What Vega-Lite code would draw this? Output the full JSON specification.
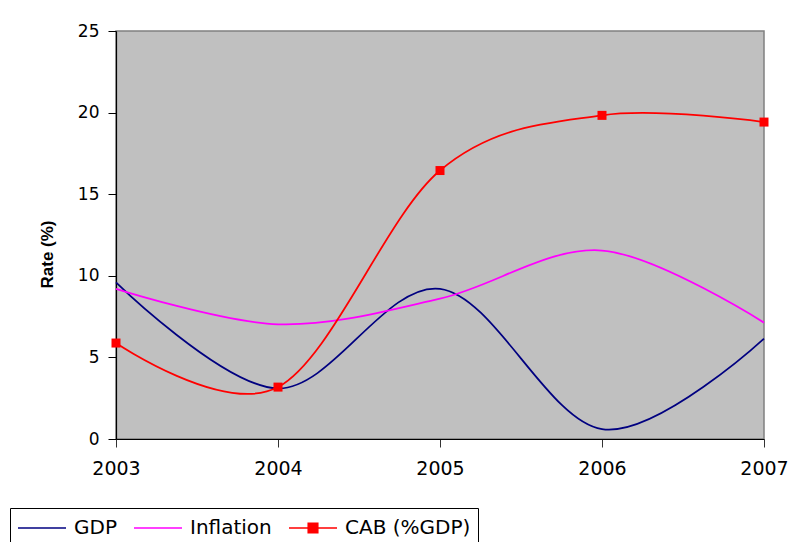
{
  "$schema": "https://vega.github.io/schema/vega-lite/v6.json",
  "width": 648,
  "height": 408,
  "autosize": "none",
  "padding": {"left": 116, "top": 31, "right": 31, "bottom": 103},
  "background": "white",
  "config": {
    "view": {"fill": "#C0C0C0", "stroke": "#808080", "strokeWidth": 1.5},
    "font": "DejaVu Sans"
  },
  "data": {
    "values": [
      {"year": 2003, "series": "GDP", "value": 9.6},
      {"year": 2004, "series": "GDP", "value": 3.1},
      {"year": 2005, "series": "GDP", "value": 9.2},
      {"year": 2006, "series": "GDP", "value": 0.6},
      {"year": 2007, "series": "GDP", "value": 6.15},
      {"year": 2003, "series": "Inflation", "value": 9.2},
      {"year": 2004, "series": "Inflation", "value": 7.03},
      {"year": 2005, "series": "Inflation", "value": 8.6},
      {"year": 2006, "series": "Inflation", "value": 11.55},
      {"year": 2007, "series": "Inflation", "value": 7.13},
      {"year": 2003, "series": "CAB (%GDP)", "value": 5.88},
      {"year": 2004, "series": "CAB (%GDP)", "value": 3.18},
      {"year": 2005, "series": "CAB (%GDP)", "value": 16.45},
      {"year": 2006, "series": "CAB (%GDP)", "value": 19.83},
      {"year": 2007, "series": "CAB (%GDP)", "value": 19.42}
    ]
  },
  "encoding": {
    "x": {
      "field": "year",
      "type": "quantitative",
      "scale": {"domain": [2003, 2007], "nice": false, "zero": false},
      "axis": {
        "title": null,
        "values": [2003, 2004, 2005, 2006, 2007],
        "format": "d",
        "grid": false,
        "domainColor": "#000000",
        "domainWidth": 1.2,
        "tickColor": "#333333",
        "tickSize": 8,
        "labelFontSize": 19,
        "labelColor": "#000000",
        "labelPadding": 12,
        "labelFlush": false
      }
    },
    "y": {
      "field": "value",
      "type": "quantitative",
      "scale": {"domain": [0, 25], "nice": false},
      "axis": {
        "title": "Rate (%)",
        "values": [0, 5, 10, 15, 20, 25],
        "grid": false,
        "domainColor": "#000000",
        "domainWidth": 1.2,
        "tickColor": "#000000",
        "tickSize": 8,
        "labelFontSize": 17,
        "labelColor": "#000000",
        "labelPadding": 9,
        "titleFont": "Liberation Sans",
        "titleFontSize": 17,
        "titleFontWeight": "bold",
        "titleColor": "#000000",
        "titleX": -69,
        "titleY": 223,
        "titleAngle": -90,
        "titleAlign": "center",
        "titleBaseline": "middle"
      }
    }
  },
  "layer": [
    {
      "mark": {"type": "line", "interpolate": "cardinal", "strokeWidth": 1.75},
      "encoding": {
        "color": {
          "field": "series",
          "type": "nominal",
          "sort": ["GDP", "Inflation", "CAB (%GDP)"],
          "scale": {
            "domain": ["GDP", "Inflation", "CAB (%GDP)"],
            "range": ["#000080", "#FF00FF", "#FF0000"]
          },
          "legend": {
            "title": null,
            "orient": "none",
            "direction": "horizontal",
            "legendX": -106,
            "legendY": 477,
            "padding": 7,
            "strokeColor": "#000000",
            "fillColor": "white",
            "symbolType": "stroke",
            "symbolSize": 576,
            "symbolStrokeWidth": 1.5,
            "labelFontSize": 20,
            "labelColor": "#000000",
            "labelOffset": 31,
            "columnPadding": 14,
            "labelLimit": 300,
            "encode": {
              "symbols": {
                "update": {
                  "shape": {"signal": "datum.value === 'CAB (%GDP)' ? 'M-1,0H3M0.6,-0.4H1.4V0.4H0.6Z' : 'M-1,0H3'"},
                  "stroke": {"signal": "scale('color', datum.value)"},
                  "fill": {"value": "#FF0000"},
                  "fillOpacity": {"value": 1},
                  "strokeWidth": {"value": 1.5}
                }
              }
            }
          }
        }
      }
    },
    {
      "transform": [{"filter": "datum.series === 'CAB (%GDP)'"}],
      "mark": {"type": "square", "size": 81, "color": "#FF0000", "opacity": 1, "filled": true},
      "encoding": {}
    }
  ]
}
